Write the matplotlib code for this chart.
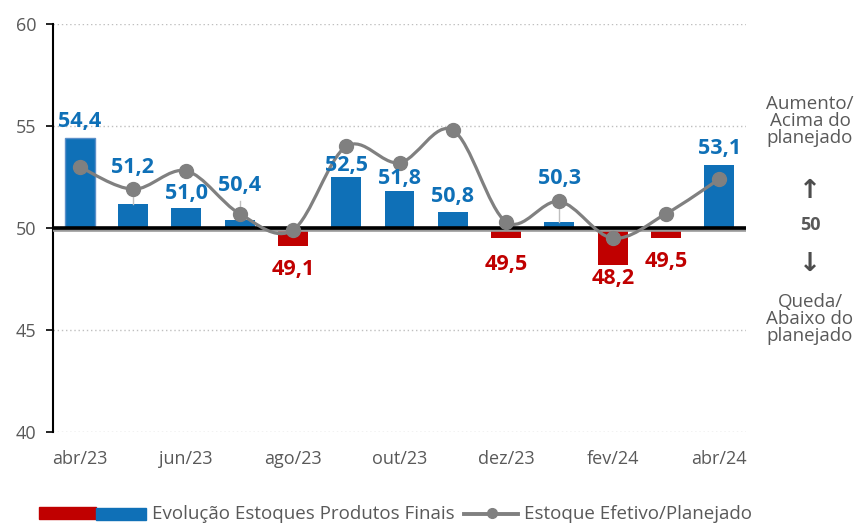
import matplotlib.pyplot as plt
import matplotlib.patheffects as pe
from matplotlib.path import Path
from matplotlib.patches import PathPatch, Rectangle
from matplotlib.lines import Line2D

plt.rcParams["font.family"] = ["Open Sans", "DejaVu Sans"]

months = ["abr/23", "mai/23", "jun/23", "jul/23", "ago/23", "set/23", "out/23",
          "nov/23", "dez/23", "jan/24", "fev/24", "mar/24", "abr/24"]
evolucao = [54.4, 51.2, 51.0, 50.4, 49.1, 52.5, 51.8, 50.8, 49.5, 50.3, 48.2, 49.5, 53.1]
efetivo = [53.0, 51.9, 52.8, 50.7, 49.9, 54.0, 53.2, 54.8, 50.3, 51.3, 49.5, 50.7, 52.4]

# label offsets in points (vertical, from bar end)
label_dy = [12, 26, 10, 25, -17, 8, 9, 11, -19, 31, -10, -17, 12]

blue = "#0F70B7"
red = "#C00000"
gray_txt = "#595959"
line_gray = "#808080"

W, H = 859, 523
fig = plt.figure(figsize=(W / 100, H / 100), dpi=100)
ax = fig.add_axes([53 / W, 1 - 432 / H, 693 / W, 408 / H])

x = list(range(len(months)))
colors = [blue if v >= 50 else red for v in evolucao]
heights = [v - 50 for v in evolucao]
bars = ax.bar(x, heights, bottom=50, width=0.56, color=colors, zorder=2)
bars[0].set_edgecolor("#5B8FC9")
bars[0].set_linewidth(1)

# baseline at 50
ax.axhline(50, color="black", lw=2.6, zorder=3,
           path_effects=[pe.SimpleLineShadow(offset=(0, -1.3), shadow_color="#999999", alpha=1),
                         pe.Normal()])

# thin leader lines
for i in [1, 9]:
    ax.plot([i, i], [evolucao[i], efetivo[i]], color="#BFBFBF", lw=1, zorder=3)
ax.plot([3, 3], [efetivo[3], 51.3], color="#BFBFBF", lw=1, zorder=3)

# smoothed line (Catmull-Rom as cubic Bezier)
pts = list(zip(x, efetivo))
verts = [pts[0]]
codes = [Path.MOVETO]
n = len(pts)
for i in range(n - 1):
    p0 = pts[i - 1] if i > 0 else pts[i]
    p1 = pts[i]
    p2 = pts[i + 1]
    p3 = pts[i + 2] if i + 2 < n else pts[i + 1]
    c1 = (p1[0] + (p2[0] - p0[0]) / 6, p1[1] + (p2[1] - p0[1]) / 6)
    c2 = (p2[0] - (p3[0] - p1[0]) / 6, p2[1] - (p3[1] - p1[1]) / 6)
    verts += [c1, c2, p2]
    codes += [Path.CURVE4, Path.CURVE4, Path.CURVE4]
ax.add_patch(PathPatch(Path(verts, codes), fill=False, edgecolor=line_gray, lw=2.3,
                       zorder=4, capstyle="round"))
ax.plot(x, efetivo, "o", color=line_gray, markersize=10, zorder=5)

# data labels
for i, v in enumerate(evolucao):
    ax.annotate(f"{v:.1f}".replace(".", ","), (i, v), xytext=(0, label_dy[i]),
                textcoords="offset points", ha="center", va="center",
                fontsize=15.5, fontweight="bold", color=colors[i], zorder=6)

ax.set_xlim(-0.5, len(months) - 0.5)
ax.set_ylim(40, 60)
ax.set_yticks([40, 45, 50, 55, 60])
ax.set_xticks(x[::2])
ax.set_xticklabels(months[::2])
ax.tick_params(axis="x", length=0, pad=13, labelsize=13, labelcolor=gray_txt)
ax.tick_params(axis="y", length=5, width=1.2, pad=7, labelsize=13, labelcolor=gray_txt)
for s in ["top", "right", "bottom"]:
    ax.spines[s].set_visible(False)
ax.spines["left"].set_linewidth(1.5)
ax.yaxis.grid(True, linestyle=(0, (1, 2)), color="#BFBFBF", lw=1)
ax.set_axisbelow(True)

# right-hand annotations
cx = 810 / W
fig.text(cx, 1 - 121 / H, "Aumento/\nAcima do\nplanejado", ha="center", va="center",
         fontsize=13.5, color=gray_txt, linespacing=0.92)
fig.text(cx, 1 - 191 / H, "\u2191", ha="center", va="center",
         fontsize=19, color="#4D4D4D", fontweight="bold", family=["DejaVu Sans"])
fig.text(cx, 1 - 225 / H, "50", ha="center", va="center",
         fontsize=13, color=gray_txt, fontweight="bold")
fig.text(cx, 1 - 264 / H, "\u2193", ha="center", va="center",
         fontsize=19, color="#4D4D4D", fontweight="bold", family=["DejaVu Sans"])
fig.text(cx, 1 - 319 / H, "Queda/\nAbaixo do\nplanejado", ha="center", va="center",
         fontsize=13.5, color=gray_txt, linespacing=0.92)

# legend (drawn by hand to match the swatch layout)
fig.patches.append(Rectangle((39 / W, 1 - 519 / H), 57 / W, 12 / H, color=red,
                             transform=fig.transFigure, figure=fig))
fig.patches.append(Rectangle((96 / W, 1 - 520 / H), 50 / W, 12 / H, color=blue,
                             transform=fig.transFigure, figure=fig))
fig.text(152 / W, 1 - 514 / H, "Evolução Estoques Produtos Finais", ha="left", va="center",
         fontsize=13.5, color=gray_txt)
fig.lines.append(Line2D([464 / W, 518 / W], [1 - 514 / H, 1 - 514 / H], color=line_gray, lw=2.8,
                        transform=fig.transFigure, figure=fig))
fig.lines.append(Line2D([492 / W], [1 - 513 / H], color=line_gray, marker="o", markersize=7,
                        transform=fig.transFigure, figure=fig))
fig.text(524 / W, 1 - 514 / H, "Estoque Efetivo/Planejado", ha="left", va="center",
         fontsize=13.5, color=gray_txt)

fig.savefig("out.png", dpi=100)
